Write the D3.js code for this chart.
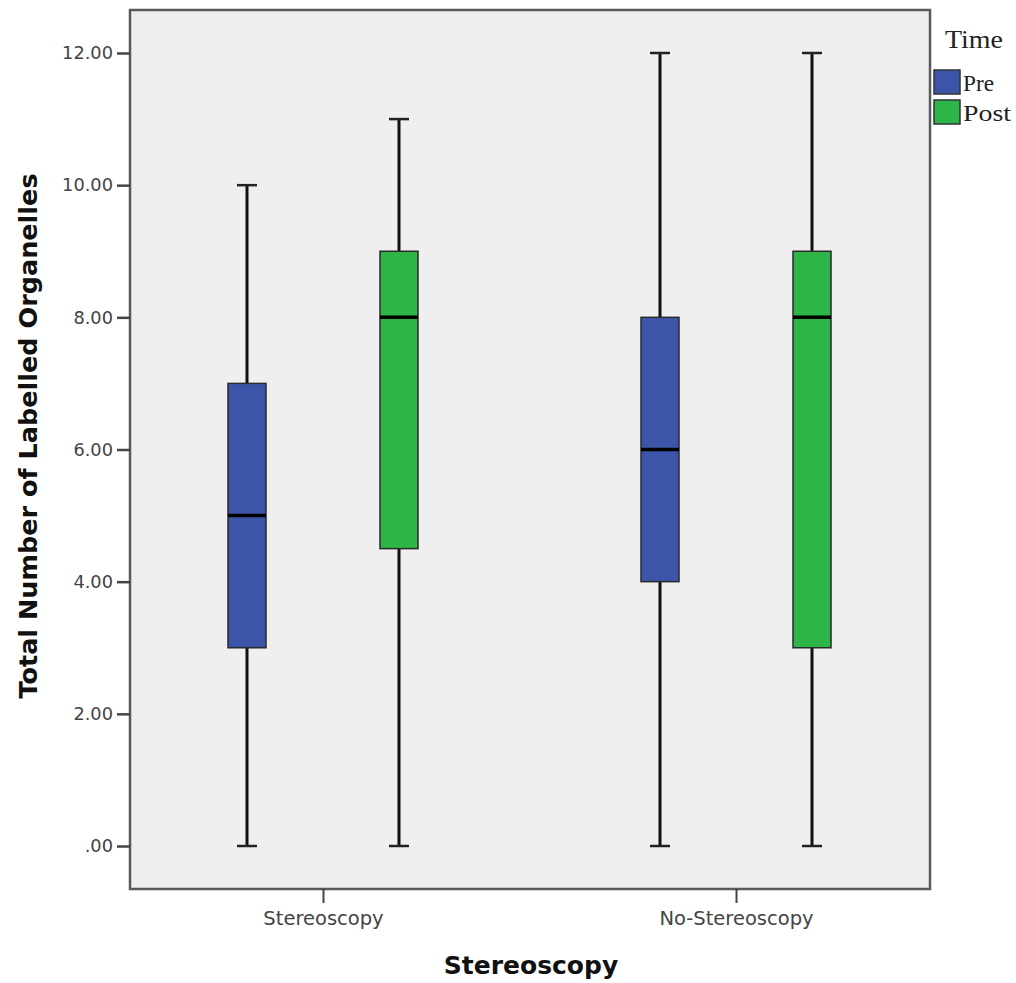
<!DOCTYPE html>
<html><head><meta charset="utf-8">
<script src="https://cdn.jsdelivr.net/npm/d3@7"></script>
<style>body{margin:0;background:#fff}</style>
</head><body>
<svg id="c" width="1016" height="983"></svg>
<script>
const categories = ["Stereoscopy", "No-Stereoscopy"];
const groups = ["Pre", "Post"];
const groupColors = ["#3d55a8", "#2eb548"];
// [category, group, min, q1, median, q3, max]
const boxStats = [
  ["Stereoscopy", "Pre", 0, 3, 5, 7, 10],
  ["Stereoscopy", "Post", 0, 4.5, 8, 9, 11],
  ["No-Stereoscopy", "Pre", 0, 4, 6, 8, 12],
  ["No-Stereoscopy", "Post", 0, 3, 8, 9, 12]
];
const yTicks = [0, 2, 4, 6, 8, 10, 12];
const yTickLabels = [".00", "2.00", "4.00", "6.00", "8.00", "10.00", "12.00"];

const svg = d3.select("#c");
const frame = {l:130, t:10, r:930, b:889};
const y = d3.scaleLinear().domain([0, 12]).range([846, 53]);
const xc = d3.scalePoint().domain(categories).range([323, 736]);
const xg = d3.scalePoint().domain(groups).range([-76, 76]);
const color = d3.scaleOrdinal().domain(groups).range(groupColors);

svg.append("rect").attr("x", frame.l).attr("y", frame.t)
  .attr("width", frame.r-frame.l).attr("height", frame.b-frame.t)
  .attr("fill", "#efefef").attr("stroke", "#5a5a5a").attr("stroke-width", 2.5);

// Y axis ticks
const yAxis = svg.append("g").attr("transform", `translate(${frame.l},0)`)
  .call(d3.axisLeft(y).tickValues(yTicks).tickSize(13).tickFormat(d=>yTickLabels[yTicks.indexOf(d)]));
yAxis.select(".domain").remove();
yAxis.selectAll("line").attr("stroke", "#444").attr("stroke-width", 2.5);
yAxis.selectAll("text").attr("font-family", "DejaVu Sans, Verdana, sans-serif").attr("font-size", 17.8).attr("fill", "#444").attr("x", -17);

// X axis ticks
const xAxis = svg.append("g").attr("transform", `translate(0,${frame.b})`)
  .call(d3.axisBottom(xc).tickSize(14));
xAxis.select(".domain").remove();
xAxis.selectAll("line").attr("stroke", "#444").attr("stroke-width", 2);
xAxis.selectAll("text").attr("font-family", "DejaVu Sans, Verdana, sans-serif").attr("font-size", 19.5).attr("fill", "#444")
  .attr("dy", null).attr("y", 36);

const bw = 38, cw = 20;
const g = svg.append("g");
boxStats.forEach(([cat, grp, mn, q1, md, q3, mx]) => {
  const cx = xc(cat) + xg(grp);
  g.append("line").attr("x1", cx).attr("x2", cx).attr("y1", y(q3)).attr("y2", y(mx)).attr("stroke", "#111").attr("stroke-width", 3);
  g.append("line").attr("x1", cx).attr("x2", cx).attr("y1", y(q1)).attr("y2", y(mn)).attr("stroke", "#111").attr("stroke-width", 3);
  g.append("line").attr("x1", cx-cw/2).attr("x2", cx+cw/2).attr("y1", y(mx)).attr("y2", y(mx)).attr("stroke", "#222").attr("stroke-width", 2.5);
  g.append("line").attr("x1", cx-cw/2).attr("x2", cx+cw/2).attr("y1", y(mn)).attr("y2", y(mn)).attr("stroke", "#222").attr("stroke-width", 2.5);
  g.append("rect").attr("x", cx-bw/2).attr("y", y(q3)).attr("width", bw).attr("height", y(q1)-y(q3))
    .attr("fill", color(grp)).attr("stroke", "#2a2a2a").attr("stroke-width", 1.5);
  g.append("line").attr("x1", cx-bw/2).attr("x2", cx+bw/2).attr("y1", y(md)).attr("y2", y(md)).attr("stroke", "#000").attr("stroke-width", 3.5);
});

// Axis titles
svg.append("text").attr("transform", "translate(37,436) rotate(-90)").attr("text-anchor", "middle")
  .attr("font-family", "DejaVu Sans, Verdana, sans-serif").attr("font-weight", "bold").attr("font-size", 25.5).attr("fill", "#111")
  .text("Total Number of Labelled Organelles");
svg.append("text").attr("x", 531).attr("y", 974).attr("text-anchor", "middle")
  .attr("font-family", "DejaVu Sans, Verdana, sans-serif").attr("font-weight", "bold").attr("font-size", 25).attr("fill", "#111")
  .text("Stereoscopy");

// Legend
const lg = svg.append("g");
lg.append("text").attr("x", 945).attr("y", 48).attr("font-family", "Liberation Serif, Times New Roman, serif").attr("font-size", 25)
  .attr("textLength", 58).attr("lengthAdjust", "spacingAndGlyphs").attr("fill", "#222").text("Time");
const legendLen = [31, 48];
groups.forEach((grp, i) => {
  const yy = 70 + i*30;
  lg.append("rect").attr("x", 934).attr("y", yy).attr("width", 26).attr("height", 24).attr("fill", color(grp)).attr("stroke", "#333").attr("stroke-width", 1.5);
  lg.append("text").attr("x", 963).attr("y", yy+21).attr("font-family", "Liberation Serif, Times New Roman, serif").attr("font-size", 24)
    .attr("textLength", legendLen[i]).attr("lengthAdjust", "spacingAndGlyphs").attr("fill", "#222").text(grp);
});
</script>
</body></html>
